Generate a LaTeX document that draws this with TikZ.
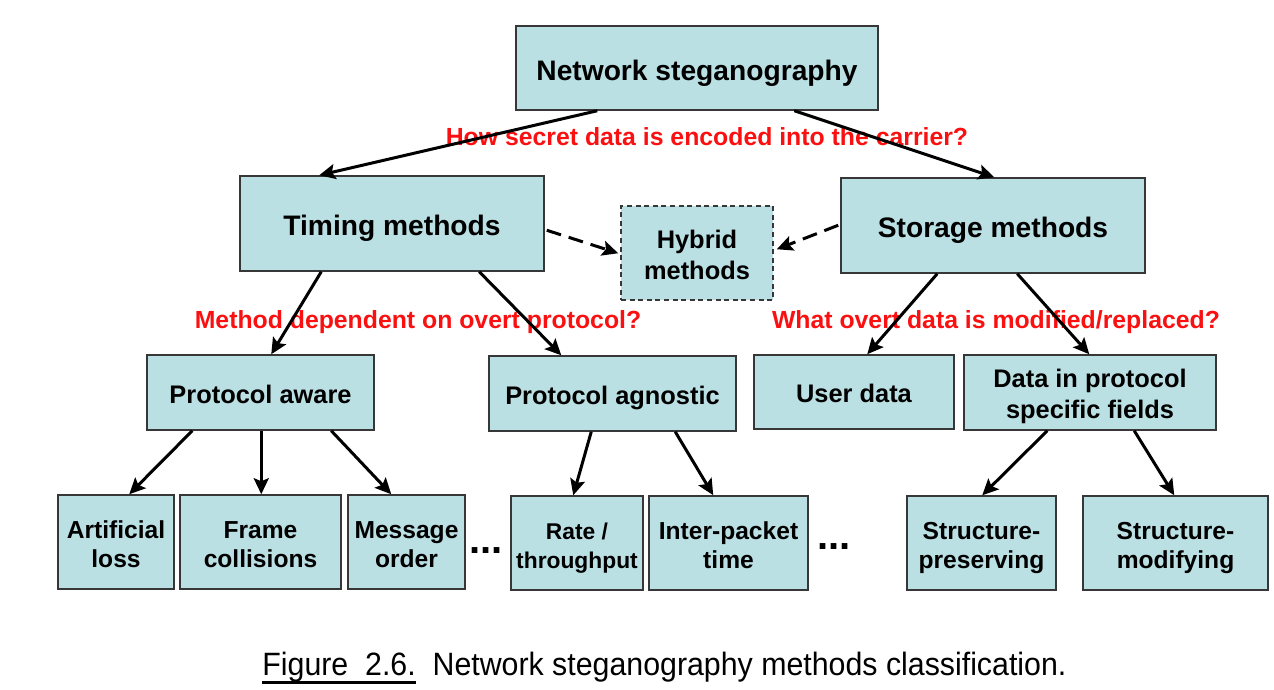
\documentclass[tikz,border=0pt]{standalone}
\usepackage{fontspec}
\setmainfont{Liberation Sans}
\usetikzlibrary{arrows.meta,calc}
\definecolor{boxfill}{RGB}{186,224,228}
\definecolor{boxline}{RGB}{55,55,55}
\definecolor{qred}{RGB}{250,16,16}
\newsavebox{\capfigbox}
\begin{document}
\begin{tikzpicture}[x=0.5pt,y=-0.5pt,
  box/.style={draw=boxline,fill=boxfill,line width=0.75pt,inner sep=0pt,align=center},
  fone/.style={font=\fontsize{14.1}{17}\selectfont\bfseries,text height=12.3pt,text depth=0pt},
  ftwo/.style={font=\fontsize{12.7}{15.5}\selectfont\bfseries,text height=10.6pt,text depth=0pt},
  ftwotwo/.style={font=\fontsize{12.7}{15.5}\selectfont\bfseries,text height=25.6pt,text depth=0pt},
  fthree/.style={font=\fontsize{12.3}{14.5}\selectfont\bfseries,text height=25.5pt,text depth=0pt},
  question/.style={text=qred,inner sep=0pt,font=\fontsize{12.4}{15}\selectfont\bfseries},
  arr/.style={line width=1.5pt,-{Stealth[length=8pt,width=7.5pt,inset=1.5pt]}},
  darr/.style={arr,dash pattern=on 7.5pt off 4pt},
  dotsstyle/.style={inner sep=0pt,font=\fontsize{20}{20}\selectfont\bfseries}
]
\useasboundingbox (0,0) rectangle (1274,690);
% level 1
\node[box,fone,minimum width=181pt,minimum height=42pt] (root) at (697,68) {Network steganography};
% level 2
\node[box,fone,minimum width=152pt,minimum height=47.5pt] (timing) at (392,223.5) {Timing methods};
\node[box,ftwotwo,text height=26.8pt,minimum width=76pt,minimum height=47pt,dash pattern=on 2.5pt off 1.8pt] (hybrid) at (697,253) {Hybrid\\methods};
\node[box,fone,minimum width=152pt,minimum height=47.5pt] (storage) at (993,225.5) {Storage methods};
% level 3
\node[box,ftwo,minimum width=113.5pt,minimum height=37.5pt] (pa) at (260.5,392.5) {Protocol aware};
\node[box,ftwo,minimum width=123.5pt,minimum height=37.5pt] (pag) at (612.5,393.5) {Protocol agnostic};
\node[box,ftwo,minimum width=100pt,minimum height=37pt] (user) at (854,392) {User data};
\node[box,ftwotwo,minimum width=126pt,minimum height=37.5pt] (fields) at (1090,392.5) {Data in protocol\\specific fields};
% level 4
\node[box,fthree,minimum width=58pt,minimum height=47pt] (art) at (116,542) {Artificial\\loss};
\node[box,fthree,minimum width=80.5pt,minimum height=47pt] (frame) at (260.5,542) {Frame\\collisions};
\node[box,fthree,minimum width=58.5pt,minimum height=47pt] (msg) at (406.5,542) {Message\\order};
\node[box,fthree,minimum width=66pt,minimum height=47pt,font=\fontsize{11.4}{14.5}\selectfont\bfseries] (rate) at (577,543) {Rate /\\throughput};
\node[box,fthree,minimum width=79.5pt,minimum height=47pt] (inter) at (728.5,543) {Inter-packet\\time};
\node[box,fthree,minimum width=74.5pt,minimum height=47pt] (sp) at (981.5,543) {Structure-\\preserving};
\node[box,fthree,minimum width=92.5pt,minimum height=47pt] (sm) at (1175.5,543) {Structure-\\modifying};
% dots
\node[dotsstyle,anchor=base] (dotsa) at (486,553) {...};
\node[dotsstyle,anchor=base] (dotsb) at (834,549) {...};
% questions
\node[question] (q1) at (707,137) {How secret data is encoded into the carrier?};
\node[question] (q2) at (418,322) {Method dependent on overt protocol?};
\node[question] (q3) at (996,322) {What overt data is modified/replaced?};
% arrows
\draw[arr] ($(root.south west)+(82,0)$) -- ($(timing.north west)+(80,0)$);
\draw[arr] ($(root.south west)+(279,0)$) -- ($(storage.north west)+(154,0)$);
\draw[arr] ($(timing.south west)+(82,0)$) -- ($(pa.north west)+(125,0)$);
\draw[arr] ($(timing.south west)+(240,0)$) -- ($(pag.north west)+(73,0)$);
\draw[arr] ($(storage.south west)+(97,0)$) -- ($(user.north west)+(114,0)$);
\draw[arr] ($(storage.south west)+(177,0)$) -- ($(fields.north west)+(126,0)$);
\draw[arr] ($(pa.south west)+(46,0)$) -- ($(art.north west)+(72,0)$);
\draw[arr] ($(pa.south west)+(115,0)$) -- ($(frame.north west)+(82,0)$);
\draw[arr] ($(pa.south west)+(185,0)$) -- ($(msg.north west)+(44,0)$);
\draw[arr] ($(pag.south west)+(103,0)$) -- ($(rate.north west)+(63,0)$);
\draw[arr] ($(pag.south west)+(187,0)$) -- ($(inter.north west)+(65,0)$);
\draw[arr] ($(fields.south west)+(84,0)$) -- ($(sp.north west)+(76,0)$);
\draw[arr] ($(fields.south west)+(171,0)$) -- ($(sm.north west)+(92,0)$);
\draw[darr] ($(timing.north east)+(2,55)$) -- ($(hybrid.north west)+(-2,48)$);
\draw[darr] ($(storage.north west)+(-2,48)$) -- ($(hybrid.north east)+(3,44)$);
% caption
\node[anchor=base west,inner sep=0pt] (cap) at (262,675) {\resizebox{402pt}{11.7pt}{\sbox{\capfigbox}{Figure\ \ 2.6.}\rlap{\rule[-2.7pt]{\wd\capfigbox}{0.95pt}}\usebox{\capfigbox}\ \ Network steganography methods classification.}};
\end{tikzpicture}
\end{document}
